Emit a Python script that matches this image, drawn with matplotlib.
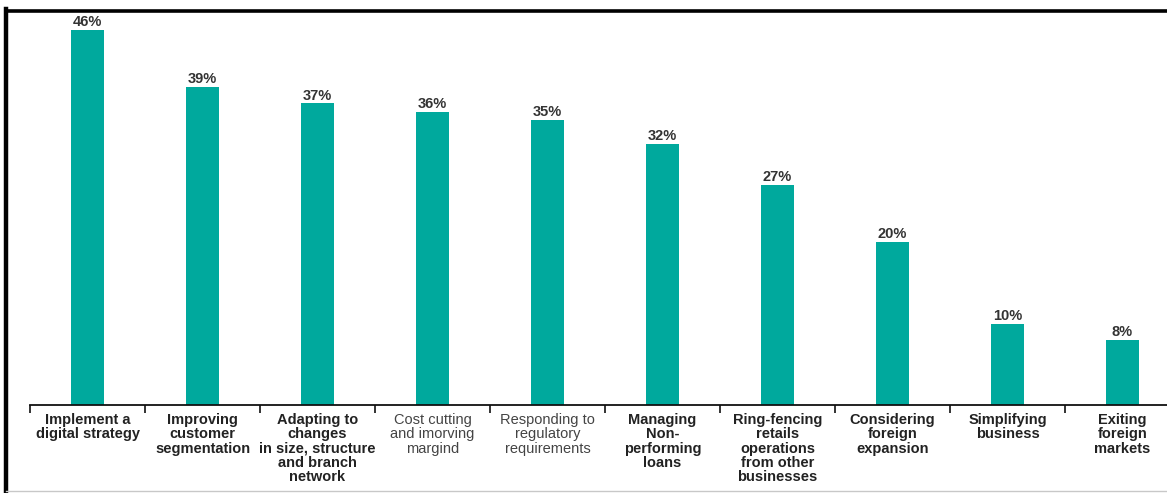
import matplotlib.pyplot as plt
from matplotlib.lines import Line2D
import numpy as np

# Share of respondents naming each strategic priority
categories = [
    "Implement a\ndigital strategy",
    "Improving\ncustomer\nsegmentation",
    "Adapting to\nchanges\nin size, structure\nand branch\nnetwork",
    "Cost cutting\nand imorving\nmargind",
    "Responding to\nregulatory\nrequirements",
    "Managing\nNon-\nperforming\nloans",
    "Ring-fencing\nretails\noperations\nfrom other\nbusinesses",
    "Considering\nforeign\nexpansion",
    "Simplifying\nbusiness",
    "Exiting\nforeign\nmarkets",
]
values = [46, 39, 37, 36, 35, 32, 27, 20, 10, 8]
label_weights = ["bold", "bold", "bold", "normal", "normal",
                 "bold", "bold", "bold", "bold", "bold"]

plt.rcParams["font.family"] = ["Liberation Sans", "DejaVu Sans"]

W, H = 1167, 493
fig = plt.figure(figsize=(W / 100, H / 100), dpi=100)

# axes geometry in pixels
left_px, right_px = 30, 1180
base_px = 405
px_per_pct = 8.15
ymax = 50
ax = fig.add_axes([left_px / W, (H - base_px) / H,
                   (right_px - left_px) / W, ymax * px_per_pct / H])

x = np.arange(len(values))
bars = ax.bar(x, values, width=0.28, color="#00a99d")

for bar, v in zip(bars, values):
    ax.text(bar.get_x() + bar.get_width() / 2, v + 0.1, f"{v}%",
            ha="center", va="bottom", fontsize=10.5, fontweight="bold",
            color="#333333")

ax.set_xlim(-0.5, len(values) - 0.5)
ax.set_ylim(0, ymax)
ax.set_yticks([])
for side in ["left", "right", "top"]:
    ax.spines[side].set_visible(False)
ax.spines["bottom"].set_linewidth(1.3)
ax.spines["bottom"].set_color("#111111")

ax.set_xticks(x)
ax.set_xticklabels(categories, fontsize=10.5, linespacing=1.04,
                   color="#222222", va="top")
for lbl, w in zip(ax.get_xticklabels(), label_weights):
    lbl.set_fontweight(w)
    if w == "normal":
        lbl.set_color("#444444")
ax.tick_params(axis="x", which="major", length=0, pad=5.5)
ax.set_xticks(np.arange(len(values) + 1) - 0.5, minor=True)
ax.tick_params(axis="x", which="minor", length=6, width=1.2,
               direction="out", color="#111111")

# black frame on the left and top, thin grey rule at the bottom
fig.add_artist(Line2D([6 / W, 6 / W], [0, 1 - 9 / H], color="black",
                      linewidth=3.2, transform=fig.transFigure,
                      solid_capstyle="projecting"))
fig.add_artist(Line2D([6 / W, 1], [1 - 11 / H, 1 - 11 / H], color="black",
                      linewidth=2.6, transform=fig.transFigure,
                      solid_capstyle="projecting"))
fig.add_artist(Line2D([6 / W, 1], [2.5 / H, 2.5 / H], color="#c8c8c8",
                      linewidth=1.0, transform=fig.transFigure))

fig.savefig("out.png", dpi=100)
